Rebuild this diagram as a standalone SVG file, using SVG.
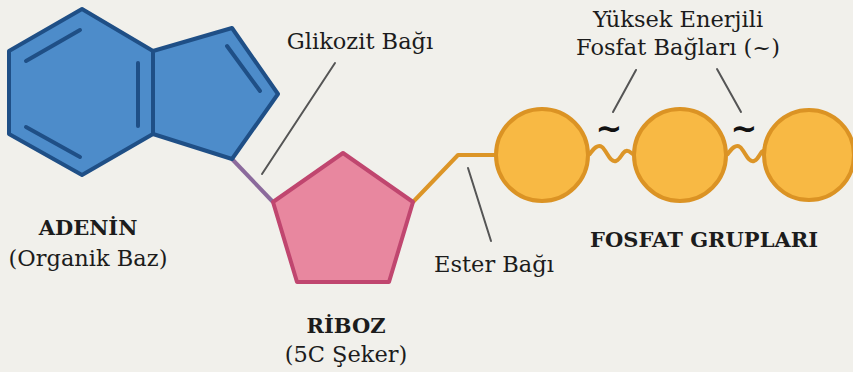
<svg xmlns="http://www.w3.org/2000/svg" width="853" height="372" viewBox="0 0 853 372">
  <style>
    .lbl { font-family: "DejaVu Serif", "Liberation Serif", serif; font-size: 22.5px; fill: #1c1c1c; text-anchor: middle; }
    .bold { font-weight: bold; font-size: 21px; }
    .lead { stroke: #555; stroke-width: 2; fill: none; stroke-linecap: round; }
    .base { fill: #4d8cca; stroke: #1f4f86; stroke-width: 4; stroke-linejoin: round; }
    .inner { stroke: #1f4f86; stroke-width: 4; stroke-linecap: round; fill: none; }
    .sugar { fill: #e8879f; stroke: #c0466f; stroke-width: 4; stroke-linejoin: round; }
    .phos { fill: #f8b944; stroke: #db9324; stroke-width: 4; }
    .tilde { font-family: "DejaVu Sans", sans-serif; font-size: 32px; font-weight: bold; fill: #111; text-anchor: middle; }
  </style>
  <rect width="853" height="372" fill="#f1f0eb"/>

  <!-- bonds between the parts -->
  <g id="connectors">
    <line x1="232" y1="159" x2="273" y2="202" stroke="#8b6a9c" stroke-width="4"/>
    <polyline points="413,202 458,155 497,155" fill="none" stroke="#dc9527" stroke-width="4" stroke-linejoin="round"/>
    <path d="M589,155 C594,148 598,144 602,147 C607,151 610,163 616,161 C621,159 622,152 626,151 C629,150 631,153 634,155" fill="none" stroke="#dc9527" stroke-width="4"/>
    <path d="M727,155 C732,148 736,144 740,147 C745,151 748,163 754,161 C759,159 760,152 763,151 C765,150 766,153 767,155" fill="none" stroke="#dc9527" stroke-width="4"/>
    <line class="lead" x1="335" y1="63" x2="262" y2="174"/>
    <line class="lead" x1="468" y1="168" x2="491" y2="241"/>
    <line class="lead" x1="636" y1="70" x2="613" y2="112"/>
    <line class="lead" x1="717" y1="69" x2="741" y2="112"/>
  </g>

  <g id="adenine">
    <polygon class="base" points="82,9 153,51 153,134 82,175 9,134 9,51"/>
    <polygon class="base" points="153,51 232,28 278,94 232,159 153,134"/>
    <line class="inner" x1="26" y1="61" x2="80" y2="30"/>
    <line class="inner" x1="26" y1="127" x2="80" y2="157"/>
    <line class="inner" x1="138" y1="63" x2="138" y2="126"/>
    <line class="inner" x1="227" y1="46" x2="260" y2="91"/>
    <text class="lbl bold" x="88" y="235">ADENİN</text>
    <text class="lbl" x="88" y="266">(Organik Baz)</text>
  </g>

  <g id="ribose">
    <polygon class="sugar" points="343,153 413,202 389,282 297,282 273,202"/>
    <text class="lbl bold" x="346" y="333">RİBOZ</text>
    <text class="lbl" x="346" y="362">(5C Şeker)</text>
  </g>

  <g id="phosphates">
    <circle class="phos" cx="542" cy="155" r="46"/>
    <circle class="phos" cx="680" cy="155" r="46"/>
    <circle class="phos" cx="809" cy="155" r="45"/>
    <text class="lbl bold" x="704" y="247">FOSFAT GRUPLARI</text>
  </g>

  <g id="glycosidic-label">
    <text class="lbl" x="360" y="49">Glikozit Bağı</text>
  </g>
  <g id="ester-label">
    <text class="lbl" x="494" y="272">Ester Bağı</text>
  </g>
  <g id="high-energy-label">
    <text class="lbl" x="678" y="27">Yüksek Enerjili</text>
    <text class="lbl" x="678" y="55">Fosfat Bağları (~)</text>
    <text class="tilde" x="609" y="139">~</text>
    <text class="tilde" x="744" y="139">~</text>
  </g>
</svg>
